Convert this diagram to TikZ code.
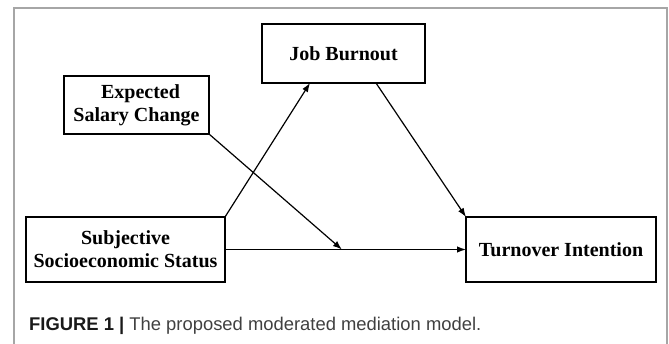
\documentclass[tikz,border=0pt]{standalone}
\usepackage{fontspec}
\setmainfont{Liberation Serif}
\newfontfamily\capfont{Liberation Sans}
\usetikzlibrary{arrows.meta,calc}
\begin{document}
\begin{tikzpicture}[x=1pt,y=-1pt,
  box/.style={draw=black,line width=1.6pt,rectangle,inner sep=0pt,outer sep=0pt,
    align=center,font=\fontsize{20}{23}\selectfont\bfseries,text=black},
  conn/.style={line width=1.2pt,-{Latex[length=9pt,width=6.5pt]}}]
\useasboundingbox (0,0) rectangle (669,344);
\draw[gray!70,line width=1.5pt] (14,344) -- (14,8) -- (667,8) -- (667,344);
\node[box,minimum width=163pt,minimum height=59pt] (jb) at (343.5,53.5) {Job Burnout};
\node[box,minimum width=145pt,minimum height=58pt] (es) at (136.5,105) {\hspace{0.4em}Expected\\ Salary Change};
\node[box,minimum width=199pt,minimum height=65pt] (ss) at (125.5,249.5) {Subjective\\Socioeconomic Status};
\node[box,minimum width=190pt,minimum height=65pt] (ti) at (561,249.5) {Turnover Intention};
\coordinate (jbin) at ([xshift=48pt]jb.south west);
\coordinate (jbout) at ([xshift=114pt]jb.south west);
\coordinate (mod) at ($(ss.east)!0.485!(ti.west)$);
\draw[conn] (ss.north east) -- (jbin);
\draw[conn] (jbout) -- (ti.north west);
\draw[conn] (ss.east) -- (ti.west);
\draw[conn] (es.south east) -- (mod);
\node[anchor=base west,inner sep=0pt,font=\capfont\fontsize{18.4}{20}\selectfont] (cap) at (29,331)
  {\textcolor{black!90}{\bfseries FIGURE 1 |} \textcolor{black!75}{The proposed moderated mediation model.}};
\end{tikzpicture}
\end{document}
